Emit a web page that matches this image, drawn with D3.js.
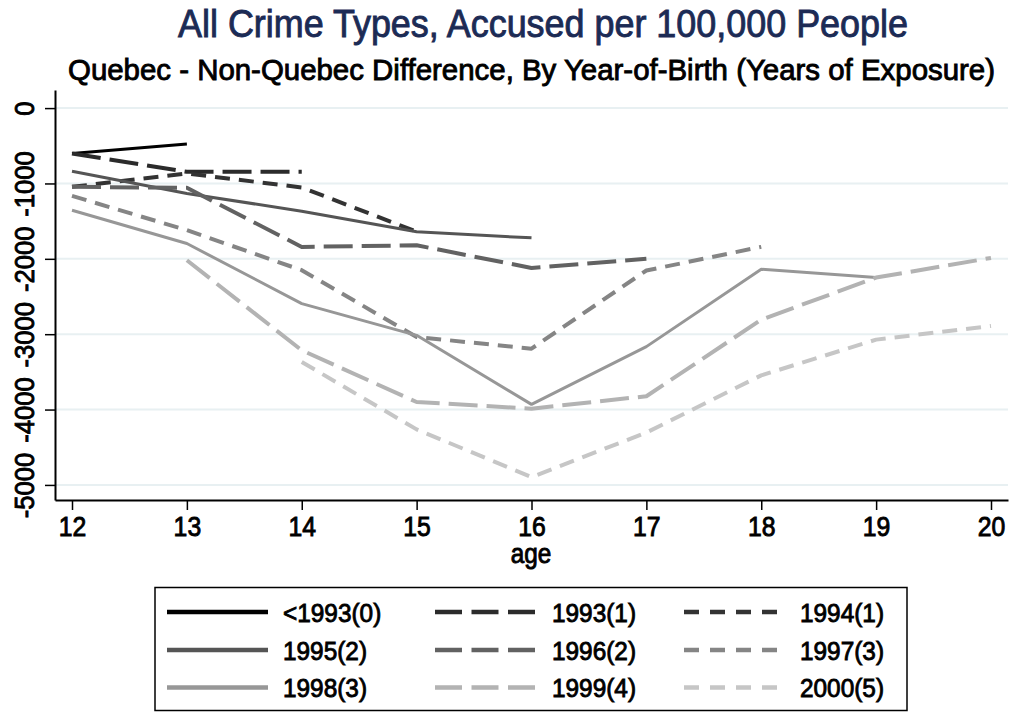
<!DOCTYPE html>
<html>
<head>
<meta charset="utf-8">
<script src="https://cdn.jsdelivr.net/npm/d3@7"></script>
<style>
  html, body { margin: 0; padding: 0; background: #fff; }
  svg { display: block; font-family: "Liberation Sans", Arial, Helvetica, sans-serif; }
  svg text { stroke-width: 0.9px; paint-order: stroke; }
</style>
</head>
<body>
<svg id="chart" width="1012" height="712"></svg>
<script>
// Ages on the x axis
const ages = [12, 13, 14, 15, 16, 17, 18, 19, 20];

// Quebec minus non-Quebec accused per 100,000, by birth cohort (null = not observed)
const cohortLt1993 = [-602, -478, null, null, null, null, null, null, null];
const cohort1993 = [-602, -846, -846, null, null, null, null, null, null];
const cohort1994 = [-1045, -868, -1053, -1640, null, null, null, null, null];
const cohort1995 = [-837, -1133, -1368, -1642, -1722, null, null, null, null];
const cohort1996 = [-1045, -1058, -1842, -1820, -2121, -2000, null, null, null];
const cohort1997 = [-1165, -1620, -2151, -3037, -3192, -2155, -1841, null, null];
const cohort1998 = [-1355, -1797, -2594, -3015, -3931, -3165, -2138, -2249, null];
const cohort1999 = [null, -2019, -3214, -3900, -3988, -3823, -2807, -2249, -1988];
const cohort2000 = [null, null, -3369, -4263, -4896, -4305, -3546, -3072, -2891];

const seriesNames = ["<1993(0)", "1993(1)", "1994(1)", "1995(2)", "1996(2)", "1997(3)", "1998(3)", "1999(4)", "2000(5)"];
const seriesValues = [cohortLt1993, cohort1993, cohort1994, cohort1995, cohort1996, cohort1997, cohort1998, cohort1999, cohort2000];

const yTicks = [0, -1000, -2000, -3000, -4000, -5000];

// Line styles per cohort: solid / long dash / short dash, darkening to light grey
const styles = [
  { color: "#000000", dash: null, w: 3 },
  { color: "#2b2b2b", dash: "long", w: 4 },
  { color: "#333333", dash: "short", w: 4 },
  { color: "#555555", dash: null, w: 3 },
  { color: "#626262", dash: "long", w: 4 },
  { color: "#858585", dash: "short", w: 4 },
  { color: "#979797", dash: null, w: 3 },
  { color: "#b3b3b3", dash: "long", w: 4 },
  { color: "#c6c6c6", dash: "short", w: 4 }
];
const plotDash = { long: "29,9", short: "15,9" };
const legendDash = { long: "27,9.5", short: "15,11" };

const svg = d3.select("#chart");

const x = d3.scaleLinear().domain([11.852, 20.148]).range([55, 1008]);
const y = d3.scaleLinear().domain([-5200, 240]).range([500, 90]);

// Narrow a text element to a fraction of its natural width
function condense(sel, k) {
  sel.each(function () {
    const len = this.getComputedTextLength();
    d3.select(this).attr("textLength", len * k).attr("lengthAdjust", "spacingAndGlyphs");
  });
}

// Titles
svg.append("text")
  .attr("x", 543).attr("y", 37)
  .attr("text-anchor", "middle")
  .attr("font-size", 38)
  .attr("fill", "#1c2b55").attr("stroke", "#1c2b55")
  .attr("textLength", 730).attr("lengthAdjust", "spacingAndGlyphs")
  .text("All Crime Types, Accused per 100,000 People");

svg.append("text")
  .attr("x", 531.5).attr("y", 80)
  .attr("text-anchor", "middle")
  .attr("font-size", 30)
  .attr("fill", "#000").attr("stroke", "#000")
  .attr("textLength", 927).attr("lengthAdjust", "spacingAndGlyphs")
  .text("Quebec - Non-Quebec Difference, By Year-of-Birth (Years of Exposure)");

// Gridlines
svg.append("g")
  .selectAll("line")
  .data(yTicks)
  .join("line")
  .attr("x1", x.range()[0]).attr("x2", x.range()[1])
  .attr("y1", d => y(d)).attr("y2", d => y(d))
  .attr("stroke", "#e8f0f2")
  .attr("stroke-width", 2);

// Y axis
const yAxis = svg.append("g")
  .attr("transform", `translate(${x.range()[0]},0)`)
  .call(d3.axisLeft(y).tickValues(yTicks).tickSize(10).tickSizeOuter(0).tickFormat(d3.format("d")));
yAxis.select(".domain").attr("stroke", "#000").attr("stroke-width", 2);
yAxis.selectAll(".tick line").attr("stroke", "#000").attr("stroke-width", 1.5);
yAxis.selectAll(".tick text")
  .attr("x", null).attr("dy", null)
  .attr("transform", "translate(-21,0) rotate(-90)")
  .attr("text-anchor", "middle")
  .attr("font-size", 28.5)
  .attr("fill", "#000").attr("stroke", "#000")
  .attr("font-family", "\"Liberation Sans\", Arial, sans-serif")
  .text(d => d3.format("d")(d).replace("−", "-"))
  .call(condense, 0.9);

// X axis
const xAxis = svg.append("g")
  .attr("transform", `translate(0,${y.range()[0]})`)
  .call(d3.axisBottom(x).tickValues(ages).tickSize(10).tickSizeOuter(0).tickFormat(d3.format("d")));
xAxis.select(".domain").attr("stroke", "#000").attr("stroke-width", 2);
xAxis.selectAll(".tick line").attr("stroke", "#000").attr("stroke-width", 1.5);
xAxis.selectAll(".tick text")
  .attr("y", 36).attr("dy", null)
  .attr("font-size", 27.5)
  .attr("fill", "#000").attr("stroke", "#000")
  .attr("font-family", "\"Liberation Sans\", Arial, sans-serif")
  .call(condense, 0.9);

svg.append("text")
  .attr("x", 531).attr("y", 563)
  .attr("text-anchor", "middle")
  .attr("font-size", 27)
  .attr("fill", "#000").attr("stroke", "#000")
  .text("age")
  .call(condense, 0.9);

// Cohort lines
const line = d3.line()
  .defined(d => d.v !== null)
  .x(d => x(d.age))
  .y(d => y(d.v));

const linesG = svg.append("g");
seriesValues.forEach((vals, i) => {
  const st = styles[i];
  const pts = ages.map((a, j) => ({ age: a, v: vals[j] })).filter(d => d.v !== null);
  linesG.append("path")
    .datum(pts)
    .attr("d", line)
    .attr("fill", "none")
    .attr("stroke", st.color)
    .attr("stroke-width", st.w)
    .attr("stroke-linejoin", "round")
    .attr("stroke-dasharray", st.dash ? plotDash[st.dash] : null);
});

// Legend
const legend = svg.append("g");
legend.append("rect")
  .attr("x", 155).attr("y", 587.5)
  .attr("width", 752).attr("height", 123)
  .attr("fill", "#fff")
  .attr("stroke", "#000")
  .attr("stroke-width", 1.5);

const colLine = [[167, 268], [435, 535], [684, 783]];
const colText = [283, 552, 800];
const rowY = [612, 650, 687.5];

seriesNames.forEach((name, i) => {
  const r = Math.floor(i / 3), c = i % 3;
  const st = styles[i];
  legend.append("line")
    .attr("x1", colLine[c][0]).attr("x2", colLine[c][1])
    .attr("y1", rowY[r]).attr("y2", rowY[r])
    .attr("stroke", st.color)
    .attr("stroke-width", 4.5)
    .attr("stroke-dasharray", st.dash ? legendDash[st.dash] : null);
  legend.append("text")
    .attr("x", colText[c]).attr("y", rowY[r] + 9.5)
    .attr("font-size", 26.5)
    .attr("fill", "#000").attr("stroke", "#000")
    .text(name)
    .call(condense, 0.92);
});
</script>
</body>
</html>
